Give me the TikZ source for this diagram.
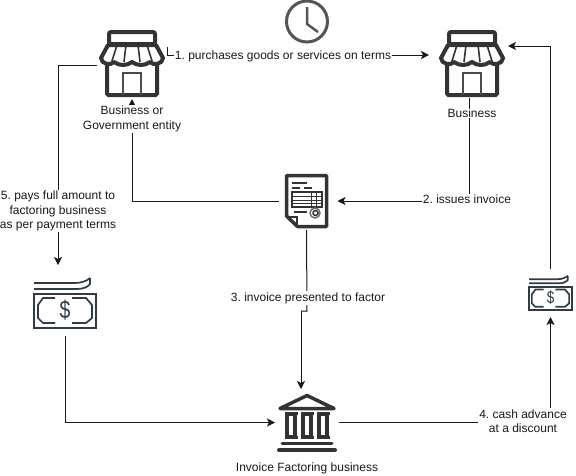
\documentclass[tikz,border=0pt]{standalone}
\usepackage{fontspec}
\setmainfont{Liberation Sans}
\usetikzlibrary{arrows.meta,positioning}
\definecolor{iconcol}{HTML}{333333}
\definecolor{clockcol}{HTML}{555555}
\definecolor{moneycol}{HTML}{2F3B45}
\tikzset{
  iconbox/.style={inner sep=0pt,outer sep=0pt},
  flow/.style={draw=black!90,line width=1pt,-{Stealth[length=8pt,width=8pt,inset=2pt]}},
  plainflow/.style={draw=black!90,line width=1pt},
  caption/.style={fill=white,inner sep=1pt,align=center,text=black!90,font=\fontsize{12}{14.5}\selectfont\frenchspacing},
  pics/storeicon/.style={code={
    \draw[iconcol,line width=4pt,rounded corners=2pt] (-23,-20) rectangle (23,-32);
    \draw[iconcol,line width=4pt,line join=round] (-24,-19) -- (24,-19) -- (31,-6)
      .. controls (31,0) and (21,2) .. (18,-2) .. controls (13,2) and (5,2) .. (0,-2)
      .. controls (-5,2) and (-13,2) .. (-18,-2) .. controls (-21,2) and (-31,0) .. (-31,-6) -- cycle;
    \draw[iconcol,line width=1.6pt] (-15,-19) -- (-20,-3) (-6,-19) -- (-8,-2) (6,-19) -- (8,-2) (15,-19) -- (20,-3);
    \draw[iconcol,line width=4pt,rounded corners=1.5pt] (-25,0) -- (-25,31) -- (25,31) -- (25,0);
    \draw[black!70,line width=2pt] (-9,31) -- (-9,9) -- (9,9) -- (9,31);
  }},
  pics/moneyicon/.style={code={
    \draw[moneycol,line width=1.7pt] (-31,-20) -- (10,-20) .. controls (16,-20) and (22,-22) .. (25,-25);
    \draw[moneycol,line width=1.7pt] (-31,-14) -- (12,-14) .. controls (18,-14) and (23,-16) .. (25,-19) -- (25,-25);
    \draw[moneycol,line width=1.7pt] (-31,-9) -- (31,-9) -- (31,25) -- (-31,25) -- cycle;
    \draw[moneycol,line width=1.7pt] (-10,-5) -- (-22,-5) -- (-27,2) -- (-27,15) -- (-22,20) -- (-10,20);
    \draw[moneycol,line width=1.7pt] (7,-5) -- (21,-5) -- (27,2) -- (27,15) -- (21,20) -- (7,20);
    \node[transform shape,xscale=0.78,text=moneycol,font=\fontsize{25}{27}\selectfont,inner sep=0pt] at (0,7.5) {\$};
  }},
  pics/bankicon/.style={code={
    \draw[iconcol,line width=3.5pt,line join=round] (0,-27) -- (27,-14) -- (-27,-14) -- cycle;
    \foreach \colx in {-16,0,16}{
      \draw[iconcol,line width=3.6pt] ([xshift=\colx pt]-4,-8) rectangle ([xshift=\colx pt]4,14);
      \draw[iconcol,line width=2.5pt] ([xshift=\colx pt]-6.5,-9) -- ([xshift=\colx pt]6.5,-9) ([xshift=\colx pt]-6.5,15) -- ([xshift=\colx pt]6.5,15);
    }
    \draw[iconcol,line width=3pt,line cap=round] (-25,20.5) -- (25,20.5);
    \draw[iconcol,line width=4pt,line cap=round] (-28,27.5) -- (28,27.5);
  }},
  pics/docicon/.style={code={
    \draw[iconcol,line width=3.5pt,line join=round] (-20,-25.5) -- (20,-25.5) -- (20,25.5) -- (-9,25.5) -- (-20,15) -- cycle;
    \draw[iconcol,line width=2pt] (-19,16) -- (-10,16) -- (-10,25);
    \draw[iconcol,line width=2pt] (-14.5,-18) -- (0,-18) (-14.5,-13) -- (-7,-13) (-3,-13) -- (5,-13);
    \draw[iconcol,line width=2pt] (-14.5,-9) rectangle (15.5,6);
    \draw[iconcol,line width=1pt] (-14.5,-5) -- (15.5,-5) (-14.5,-1) -- (15.5,-1) (-14.5,2.5) -- (15.5,2.5) (5,-9) -- (5,6) (10,-9) -- (10,6);
    \draw[iconcol,line width=2pt] (-12.5,11) -- (0,11);
    \draw[iconcol!70,line width=1.5pt] (8.5,12) circle (5);
    \draw[iconcol,line width=1.5pt] (9,12) circle (2.5);
  }},
  pics/clockicon/.style={code={
    \draw[clockcol,line width=3pt] (0,0) circle (20.5);
    \draw[clockcol,line width=2.5pt,line join=round] (0,-14.5) -- (0,2.5) -- (11,10.5);
  }}
}
\begin{document}
\begin{tikzpicture}[x=1pt,y=-1pt]
  \useasboundingbox (0,0) rectangle (576,475);
  % icons
  \node[iconbox,minimum width=70pt,minimum height=68pt] (storeA) at (132,64) {};
  \node[iconbox,minimum width=70pt,minimum height=68pt] (storeB) at (472,64) {};
  \node[iconbox,minimum width=44pt,minimum height=54pt] (invoice) at (306.5,201) {};
  \node[iconbox,minimum width=62pt,minimum height=50pt] (moneyA) at (65,303) {};
  \node[iconbox,minimum width=43pt,minimum height=34pt] (moneyB) at (550.5,293) {};
  \node[iconbox,minimum width=60pt,minimum height=60pt] (bank) at (307,422.5) {};
  \node[iconbox,minimum width=42pt,minimum height=42pt] (clock) at (307,21.5) {};
  \pic at (storeA) {storeicon};
  \pic at (storeB) {storeicon};
  \pic at (invoice) {docicon};
  \pic at (moneyA) {moneyicon};
  \pic[scale=0.69] at (moneyB) {moneyicon};
  \pic at (bank) {bankicon};
  \pic at (clock) {clockicon};
  % connectors
  \coordinate (jogA) at (307,311);
  \coordinate (jogB) at (301,311);
  \coordinate (payDrop) at (58,265);
  \draw[flow] ([yshift=17pt]storeA.east) |- ([xshift=-8pt,yshift=9pt]storeB.west);
  \draw[flow] ([xshift=-3pt]storeB.south) |- ([xshift=9pt]invoice.east);
  \draw[flow] ([xshift=-6pt]invoice.west) -| ([yshift=-1pt]storeA.south);
  \draw[plainflow] ([yshift=-2pt]invoice.south) -- (jogA) -- (jogB);
  \draw[flow] (jogB) -- ([yshift=3.5pt]bank.north -| jogB);
  \draw[flow] ([yshift=-1pt]storeA.west) -| (payDrop);
  \draw[flow] ([yshift=-8pt]moneyA.south) |- ([xshift=-2pt]bank.west);
  \draw[flow] ([xshift=2pt]bank.east) -| ([yshift=-7pt]moneyB.south);
  \draw[flow] ([yshift=7pt]moneyB.north) |- ([xshift=1pt,yshift=18pt]storeB.east);
  % labels
  \node[caption] (termsLabel) at (283,56) {1. purchases goods or services on terms};
  \node[caption] (issueLabel) at (467,199) {2. issues invoice};
  \node[caption] (factorLabel) at (308,298) {3. invoice presented to factor};
  \node[caption] (advanceLabel) at (523,421) {4. cash advance\\at a discount};
  \node[caption] (paysLabel) at (58,211) {5. pays full amount to\\factoring business\\as per payment terms};
  \node[caption] (govLabel) at (132,119) {Business or\\Government entity};
  \node[caption] (bizLabel) at (472,113) {Business};
  \node[caption] (bankLabel) at (307,468) {Invoice Factoring business};
\end{tikzpicture}
\end{document}
